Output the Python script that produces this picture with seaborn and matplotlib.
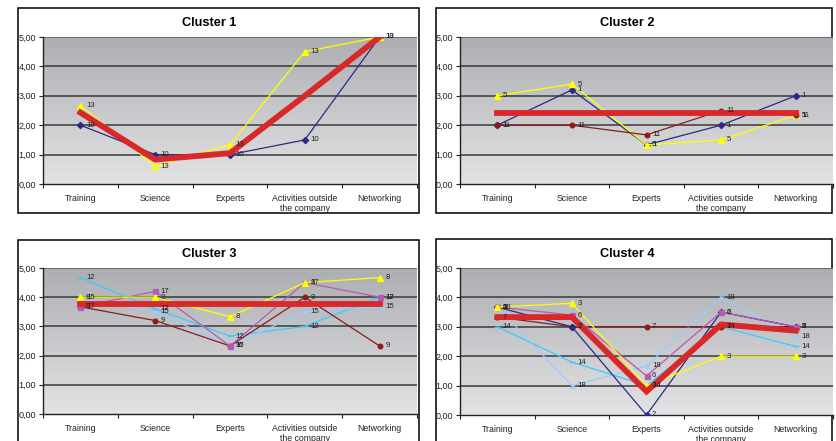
import numpy as np
import pandas as pd
import matplotlib
matplotlib.use("Agg")
import matplotlib.pyplot as plt
from matplotlib.patches import Rectangle
from matplotlib.colors import LinearSegmentedColormap
from matplotlib.ticker import FuncFormatter, FixedLocator
import seaborn as sns

plt.rcParams['font.family'] = ['Liberation Sans', 'DejaVu Sans']

W, H = 836, 441

CATEGORIES = ["Training", "Science", "Experts",
              "Activities outside\nthe company", "Networking"]

# Cluster 1
c1_10 = [2.00, 1.00, 1.00, 1.50, 5.00]
c1_13 = [2.67, 0.60, 1.33, 4.50, 5.00]
c1_mean = [2.43, 0.83, 1.05, 3.00, 5.00]

# Cluster 2
c2_1 = [2.00, 3.20, 1.33, 2.00, 3.00]
c2_5 = [3.00, 3.40, 1.33, 1.50, 2.33]
c2_11 = [2.00, 2.00, 1.67, 2.50, 2.33]
c2_mean = [2.43, 2.43, 2.43, 2.43, 2.43]

# Cluster 3
c3_8 = [4.00, 4.00, 3.33, 4.50, 4.67]
c3_9 = [3.67, 3.20, 2.33, 4.00, 2.33]
c3_12 = [4.67, 3.60, 2.67, 3.00, 4.00]
c3_15 = [4.00, 3.50, 2.33, 3.50, 3.67]
c3_17 = [3.67, 4.20, 2.33, 4.50, 4.00]
c3_mean = [3.77, 3.77, 3.77, 3.77, 3.77]

# Cluster 4
c4_2 = [3.67, 3.00, 0.00, 3.50, 3.00]
c4_3 = [3.67, 3.80, 1.00, 2.00, 2.00]
c4_6 = [3.67, 3.40, 1.33, 3.50, 3.00]
c4_7 = [3.33, 3.00, 3.00, 3.00, 3.00]
c4_14 = [3.00, 1.80, 1.00, 3.00, 2.33]
c4_18 = [3.67, 1.00, 1.67, 4.00, 2.67]
c4_mean = [3.33, 3.33, 0.80, 3.08, 2.87]

STYLES = {
    "navy": ("#2a2a84", "D", 3.2),
    "yellow": ("#ffff00", "^", 3.8),
    "darkred": ("#8b1c1c", "o", 3.4),
    "magenta": ("#b45ab4", "s", 3.6),
    "cyan": ("#33ccff", "_", 4.0),
    "lightblue": ("#99ccff", "x", 3.6),
}

clusters = [
    ("Cluster 1", [("10", "navy", c1_10), ("13", "yellow", c1_13)], c1_mean),
    ("Cluster 2", [("1", "navy", c2_1), ("5", "yellow", c2_5),
                   ("11", "darkred", c2_11)], c2_mean),
    ("Cluster 3", [("12", "cyan", c3_12), ("15", "lightblue", c3_15),
                   ("9", "darkred", c3_9), ("17", "magenta", c3_17),
                   ("8", "yellow", c3_8)], c3_mean),
    ("Cluster 4", [("14", "cyan", c4_14), ("18", "lightblue", c4_18),
                   ("7", "darkred", c4_7), ("2", "navy", c4_2),
                   ("6", "magenta", c4_6), ("3", "yellow", c4_3)], c4_mean),
]

# pixel boxes: plot area (left, top, right, bottom), frame, title centre
AXES_PX = [(43, 37, 417, 184), (460, 37, 833, 184),
           (43, 268, 417, 414), (460, 268, 833, 415)]
FRAMES_PX = [(18, 8, 419, 213), (436, 8, 832, 213),
             (18, 240, 419, 446), (436, 239, 832, 446)]
TITLES_PX = [(209, 23), (627, 23), (209, 254), (627, 254)]

bg_cmap = LinearSegmentedColormap.from_list("bg", ["#adaeb2", "#e3e3e5"])

fig = plt.figure(figsize=(W / 100, H / 100), dpi=100)
fig.patch.set_facecolor("white")


def px_rect(box):
    x0, y0, x1, y1 = box
    return (x0 / W, 1 - y1 / H, (x1 - x0) / W, (y1 - y0) / H)


for (title, members, mean), ax_box, fr_box, (tx, ty) in zip(
        clusters, AXES_PX, FRAMES_PX, TITLES_PX):
    x0, y0, w, h = px_rect(fr_box)
    fig.add_artist(Rectangle((x0, y0), w, h, transform=fig.transFigure,
                             fill=False, ec="black", lw=1.1, zorder=0))
    fig.text(tx / W, 1 - ty / H, title, ha="center", va="center",
             fontsize=9.2, fontweight="bold")

    ax = fig.add_axes(px_rect(ax_box))
    xs = np.arange(len(CATEGORIES))
    ax.imshow(np.linspace(0, 1, 256).reshape(-1, 1), cmap=bg_cmap,
              extent=[-0.5, len(CATEGORIES) - 0.5, 0, 5], aspect="auto",
              origin="upper", zorder=0)

    for label, style, vals in members:
        color, marker, ms = STYLES[style]
        df = pd.DataFrame({"x": xs, "y": vals})
        sns.lineplot(data=df, x="x", y="y", ax=ax, color=color, lw=0.9,
                     marker=marker, markersize=ms, markeredgecolor=color,
                     markeredgewidth=0.9, sort=False, zorder=3)
        for xv, yv in zip(xs, vals):
            ax.annotate(label, (xv, yv), xytext=(4, 0),
                        textcoords="offset points", va="center",
                        fontsize=5.6, color="#222222", zorder=5)

    # cluster average, drawn thick on top
    mdf = pd.DataFrame({"x": xs, "y": mean})
    sns.lineplot(data=mdf, x="x", y="y", ax=ax, color="#d8282a", lw=4.2,
                 sort=False, zorder=4, solid_capstyle="projecting",
                 solid_joinstyle="miter")

    ax.set_xlim(-0.5, len(CATEGORIES) - 0.5)
    ax.set_ylim(0, 5)
    ax.set_xlabel("")
    ax.set_ylabel("")

    for yv in [1, 2, 3, 4]:
        ax.axhline(yv, color="#3a3a3a", lw=1.1, zorder=1)
    ax.axhline(5, color="#6a6a6a", lw=1.4, zorder=1)

    ax.xaxis.set_major_locator(FixedLocator(np.arange(-0.5, len(CATEGORIES), 1.0)))
    ax.xaxis.set_minor_locator(FixedLocator(xs))
    ax.set_xticklabels([])
    ax.set_xticklabels(CATEGORIES, minor=True)
    ax.tick_params(axis="x", which="major", length=3, width=0.8,
                   direction="out", color="#222222")
    ax.tick_params(axis="x", which="minor", length=0, pad=7,
                   labelsize=6.3, labelcolor="#222222")

    ax.set_yticks([0, 1, 2, 3, 4, 5])
    ax.yaxis.set_major_formatter(
        FuncFormatter(lambda v, p: f"{v:.2f}".replace(".", ",")))
    ax.tick_params(axis="y", length=3, width=0.8, direction="out",
                   labelsize=6.5, pad=2, color="#222222", labelcolor="#222222")

    for side in ["top", "right"]:
        ax.spines[side].set_visible(False)
    ax.spines["left"].set_color("#222222")
    ax.spines["bottom"].set_color("#222222")
    ax.spines["left"].set_linewidth(1.0)
    ax.spines["bottom"].set_linewidth(1.0)

fig.savefig("out.png", dpi=100)
